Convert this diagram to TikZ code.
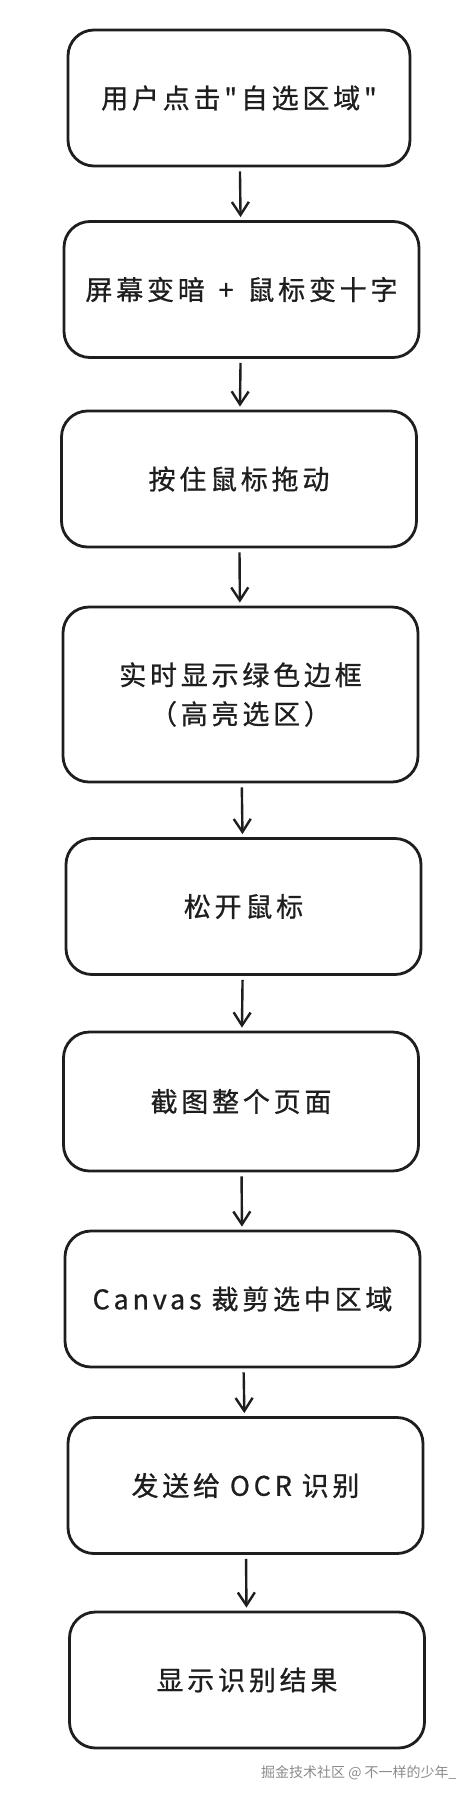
\documentclass[tikz,border=0pt]{standalone}
\usepackage{fontspec}
\setmainfont{Noto Sans CJK SC}
\newfontfamily\boxfont[LetterSpace=14, FakeBold=0.8]{Noto Sans CJK SC}
\usetikzlibrary{arrows.meta}
\definecolor{ink}{HTML}{1E1E1E}
\definecolor{credgray}{HTML}{8A8A8A}

\begin{document}
\begin{tikzpicture}[x=1pt, y=-1pt,
    stepbox/.style={draw=ink, line width=2.8pt, rounded corners=26pt, minimum width=355pt, minimum height=136pt, align=center, text=ink, font=\boxfont\fontsize{27}{39}\selectfont},
    flow/.style={draw=ink, line width=2.4pt, shorten <=4pt, shorten >=3pt, -{Straight Barb[length=13pt, width=17pt]}}]
    \useasboundingbox (0, 0) rectangle (476, 1796);
    \node[stepbox, minimum width=342pt] (click) at (239, 98) {用户点击"自选区域"};
    \node[stepbox] (dim) at (241.5, 289.5) {屏幕变暗\hspace{4pt} + \hspace{4pt}鼠标变十字};
    \node[stepbox] (drag) at (239, 479) {按住鼠标拖动};
    \node[stepbox, minimum height=175pt] (frame) at (240.5, 694.5) {实时显示绿色边框\\（高亮选区）};
    \node[stepbox] (release) at (243.5, 906.5) {松开鼠标};
    \node[stepbox, minimum height=139pt] (shot) at (241, 1101.5) {截图整个页面};
    \node[stepbox] (crop) at (242.5, 1299) {Canvas 裁剪选中区域};
    \node[stepbox] (ocr) at (245.5, 1485.5) {发送给 OCR 识别};
    \node[stepbox] (result) at (247, 1680) {显示识别结果};
    \draw[flow] (click) -- (dim);
    \draw[flow] (dim) -- (drag);
    \draw[flow] (drag) -- (frame);
    \draw[flow] (frame) -- (release);
    \draw[flow] (release) -- (shot);
    \draw[flow] (shot) -- (crop);
    \draw[flow] (crop) -- (ocr);
    \draw[flow] (ocr) -- (result);
    \node[anchor=east, text=credgray, font=\fontsize{14}{16}\selectfont] (credit) at (460, 1773) {掘金技术社区 @ 不一样的少年\_};
\end{tikzpicture}
\end{document}
